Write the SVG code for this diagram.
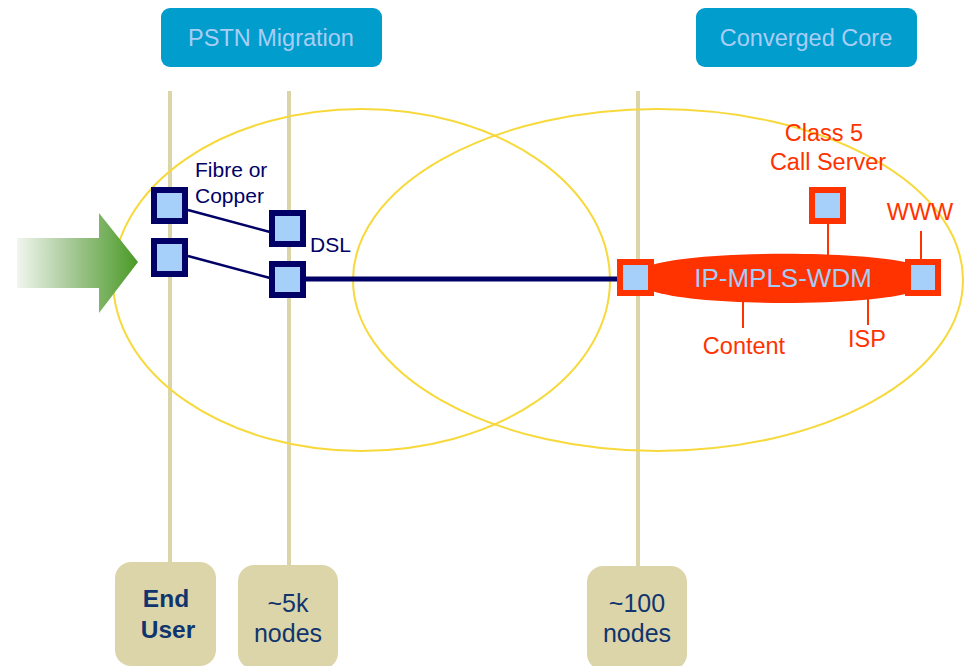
<svg xmlns="http://www.w3.org/2000/svg" width="965" height="666" viewBox="0 0 965 666">
  <defs>
    <linearGradient id="arrowFill" x1="17" y1="0" x2="138" y2="0" gradientUnits="userSpaceOnUse">
      <stop offset="0" stop-color="#f1f6ee"/>
      <stop offset="0.45" stop-color="#a6c896"/>
      <stop offset="1" stop-color="#4a9a26"/>
    </linearGradient>
    <style>
      text { font-family: "Liberation Sans", Arial, sans-serif; }
      .hdr rect { fill: #009dcd; }
      .hdr text { fill: #a9cdf5; font-size: 23.5px; text-anchor: middle; }
      .tier { stroke: #ddd5aa; stroke-width: 4; fill: none; }
      .zone { fill: none; stroke: #f7d93c; stroke-width: 2; }
      .foot rect { fill: #ddd5aa; }
      .foot text { fill: #10356e; font-size: 25px; text-anchor: middle; }
      .foot text.b { font-weight: bold; font-size: 24.5px; }
      .nv { fill: #a6cffa; stroke: #000066; stroke-width: 6; }
      .rd { fill: #a6cffa; stroke: #ff3300; stroke-width: 6; }
      .navy-lbl { fill: #000066; font-size: 21px; }
      .red-lbl { fill: #ff3300; font-size: 23.5px; text-anchor: middle; }
      .thin { stroke: #000066; stroke-width: 2.5; fill: none; }
      .trunk { stroke: #000066; stroke-width: 5; fill: none; }
      .rline { stroke: #ff3300; stroke-width: 2; fill: none; }
    </style>
  </defs>

  <rect width="965" height="666" fill="#ffffff"/>

  <!-- tier guide lines -->
  <g id="tiers">
    <line class="tier" x1="170" y1="91" x2="170" y2="564"/>
    <line class="tier" x1="289" y1="91" x2="289" y2="567"/>
    <line class="tier" x1="638" y1="91" x2="638" y2="567"/>
  </g>

  <!-- coverage zones -->
  <g id="zones">
    <ellipse class="zone" cx="361.5" cy="280" rx="248.5" ry="171"/>
    <ellipse class="zone" cx="658" cy="280" rx="305" ry="171"/>
  </g>

  <!-- headers -->
  <g id="hdr-pstn" class="hdr">
    <rect x="161" y="8" width="221" height="59" rx="9"/>
    <text x="271" y="46">PSTN Migration</text>
  </g>
  <g id="hdr-core" class="hdr">
    <rect x="696" y="8" width="221" height="59" rx="9"/>
    <text x="806" y="46">Converged Core</text>
  </g>

  <!-- incoming arrow -->
  <g id="arrow">
    <polygon points="17,238 99,238 99,213 138,262 99,313 99,288 17,288" fill="url(#arrowFill)"/>
  </g>

  <!-- connectors -->
  <g id="connectors">
    <line class="thin" x1="188" y1="210" x2="270" y2="232"/>
    <line class="thin" x1="188" y1="256" x2="270" y2="278"/>
    <line class="trunk" x1="306" y1="279" x2="618" y2="279"/>
    <line class="rline" x1="828" y1="224" x2="828" y2="256"/>
    <line class="rline" x1="921" y1="231" x2="921" y2="260"/>
    <line class="rline" x1="743" y1="300" x2="743" y2="328"/>
    <line class="rline" x1="868" y1="298" x2="868" y2="325"/>
  </g>

  <!-- access nodes -->
  <g id="eu-1"><rect class="nv" x="154" y="190" width="31" height="31"/></g>
  <g id="eu-2"><rect class="nv" x="154" y="241" width="31" height="33"/></g>
  <g id="dsl-1"><rect class="nv" x="272" y="213" width="31" height="31"/></g>
  <g id="dsl-2"><rect class="nv" x="272" y="264" width="31" height="31"/></g>

  <g id="access-labels">
    <text class="navy-lbl" x="195" y="177">Fibre or</text>
    <text class="navy-lbl" x="195" y="203">Copper</text>
    <text class="navy-lbl" x="310" y="252">DSL</text>
  </g>

  <!-- core network -->
  <g id="core">
    <path d="M652,265 C700,250 870,250 917,265 L917,291 C870,307 700,307 652,291 Z" fill="#ff3300"/>
    <text x="783" y="287" fill="#a6cdf7" font-size="26" text-anchor="middle">IP-MPLS-WDM</text>
  </g>
  <g id="core-edge"><rect class="rd" x="620" y="262" width="31" height="31"/></g>
  <g id="core-www"><rect class="rd" x="908" y="262" width="30" height="31"/></g>
  <g id="call-server"><rect class="rd" x="812" y="190" width="31" height="31"/></g>

  <g id="core-labels">
    <text class="red-lbl" x="824" y="141">Class 5</text>
    <text class="red-lbl" x="828" y="170">Call Server</text>
    <text class="red-lbl" x="920" y="220">WWW</text>
    <text class="red-lbl" x="744" y="354">Content</text>
    <text class="red-lbl" x="867" y="347">ISP</text>
  </g>

  <!-- tier footers -->
  <g id="foot-user" class="foot">
    <rect x="115" y="562" width="101" height="104" rx="16"/>
    <text class="b" x="166" y="607">End</text>
    <text class="b" x="168" y="638">User</text>
  </g>
  <g id="foot-5k" class="foot">
    <rect x="238" y="565" width="100" height="104" rx="16"/>
    <text x="288" y="612">~5k</text>
    <text x="288" y="642">nodes</text>
  </g>
  <g id="foot-100" class="foot">
    <rect x="587" y="566" width="100" height="104" rx="16"/>
    <text x="637" y="612">~100</text>
    <text x="637" y="642">nodes</text>
  </g>
</svg>
